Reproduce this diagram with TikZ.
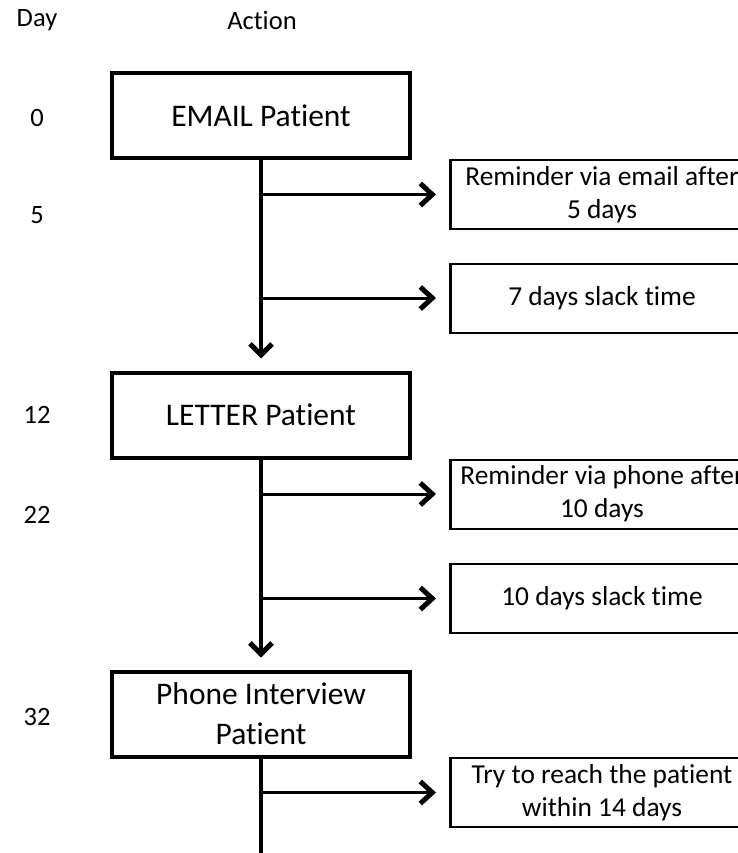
\documentclass[tikz,border=0pt]{standalone}
\usepackage{fontspec}
\setmainfont[RawFeature={-liga;-clig;-calt}]{Carlito}
\usetikzlibrary{arrows.meta,calc}

\begin{document}
\begin{tikzpicture}[x=1pt,y=-1pt,
  actionbox/.style={draw, line width=4pt, minimum width=298pt, minimum height=85pt,
    align=center, inner sep=0pt, font=\fontsize{31.5}{40}\selectfont},
  notebox/.style={draw, line width=2pt, minimum width=302pt, minimum height=69pt,
    align=center, inner sep=0pt, font=\fontsize{27.4}{33}\selectfont},
  daytext/.style={font=\fontsize{26.5}{32}\selectfont, inner sep=0pt},
  flow/.style={line width=4pt, -{Straight Barb[length=11pt,width=22pt,line width=5pt]},
    shorten >=12pt},
  branch/.style={line width=3pt, -{Straight Barb[length=12pt,width=22pt,line width=5pt]},
    shorten >=14pt}
]
\useasboundingbox (0,0) rectangle (738,853);
\clip (0,0) rectangle (738,853);

% column headings
\node[daytext] (hday) at (37,20) {Day};
\node[daytext] (hact) at (262,20) {Action};

% day numbers
\node[daytext] (d0)  at (37,118) {0};
\node[daytext] (d5)  at (37,215) {5};
\node[daytext] (d12) at (37,415) {12};
\node[daytext] (d22) at (37,515) {22};
\node[daytext] (d32) at (37,717) {32};

% main actions
\node[actionbox] (email)  at (261,115.5) {EMAIL Patient};
\node[actionbox] (letter) at (261,415)   {LETTER Patient};
\node[actionbox] (phone)  at (261,714)   {Phone Interview\\Patient};

% side notes (open towards the right margin)
\node[notebox] (n1) at (602,194.5) {Reminder via email after\\5 days};
\node[notebox] (n2) at (602,298)   {7 days slack time};
\node[notebox] (n3) at (602,494)   {Reminder via phone after\\10 days};
\node[notebox] (n4) at (602,598.5) {10 days slack time};
\node[notebox] (n5) at (602,792.5) {Try to reach the patient\\within 14 days};
\foreach \n in {n1,n2,n3,n4,n5}
  \draw[line width=3pt] (\n.north west) -- (\n.south west);

% main flow
\draw[flow] (email.south) -- (letter.north);
\draw[flow] (letter.south) -- (phone.north);
\coordinate (tail) at (261,860);
\draw[line width=4pt] (phone.south) -- (tail);

% branches to the notes
\draw[branch] (email.south |- n1.west) -- (n1.west);
\draw[branch] (email.south |- n2.west) -- (n2.west);
\draw[branch] (letter.south |- n3.west) -- (n3.west);
\draw[branch] (letter.south |- n4.west) -- (n4.west);
\draw[branch] (phone.south |- n5.west) -- (n5.west);
\end{tikzpicture}
\end{document}
